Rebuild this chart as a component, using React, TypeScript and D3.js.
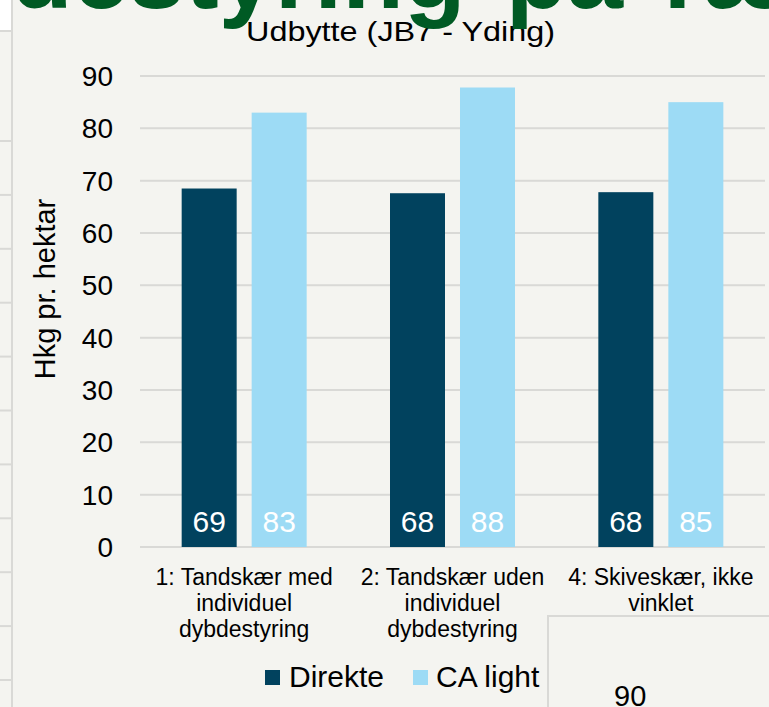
import React from "react";
import * as d3 from "d3";

const W = 769;
const H = 707;

const categories: string[][] = [
  ["1: Tandskær med", "individuel", "dybdestyring"],
  ["2: Tandskær uden", "individuel", "dybdestyring"],
  ["4: Skiveskær, ikke", "vinklet"],
];
const categoryKeys = ["c1", "c2", "c4"];
const seriesNames = ["Direkte", "CA light"];
const direkte = [68.5, 67.6, 67.8];
const caLight = [83.0, 87.8, 85.0];
const seriesValues = [direkte, caLight];
const seriesColors = ["#01425e", "#9ddbf5"];
const yTicks = [0, 10, 20, 30, 40, 50, 60, 70, 80, 90];
const title = "Udbytte (JB7 - Yding)";
const yTitle = "Hkg pr. hektar";
const bannerText = "destyring på ræ";
const boxText = "90";

const FONT = "'Liberation Sans', Arial, sans-serif";
const BG = "#f4f4f0";
const GRID = "#d9d9d6";

export default function App() {
  const y = d3.scaleLinear().domain([0, 90]).range([547, 76]);
  const x0 = d3
    .scaleBand<string>()
    .domain(categoryKeys)
    .range([140, 765])
    .paddingInner(0.4)
    .paddingOuter(0.2);
  const x1 = d3
    .scaleBand<string>()
    .domain(seriesNames)
    .range([0, x0.bandwidth()])
    .paddingInner(0.2143)
    .paddingOuter(0);

  const stripLines = d3.range(141, 700, 53.9);

  return (
    <svg
      width={W}
      height={H}
      style={{ position: "absolute", left: 0, top: 0, display: "block" }}
      fontFamily={FONT}
    >
      <rect x={0} y={0} width={W} height={H} fill={BG} />
      {/* left strip artifacts */}
      <rect x={0} y={0} width={11} height={30} fill="#ffffff" />
      <line x1={0} x2={11} y1={31} y2={31} stroke={GRID} strokeWidth={2} />
      {stripLines.map((v, i) => (
        <line key={i} x1={0} x2={11} y1={v} y2={v} stroke={GRID} strokeWidth={2} />
      ))}
      <line x1={12} x2={12} y1={0} y2={H} stroke={GRID} strokeWidth={2} />

      {/* gridlines */}
      {yTicks.map((t) => (
        <line
          key={t}
          x1={140}
          x2={765}
          y1={y(t)}
          y2={y(t)}
          stroke={GRID}
          strokeWidth={2}
        />
      ))}
      {/* y tick labels */}
      {yTicks.map((t) => (
        <text
          key={"l" + t}
          x={113}
          y={y(t) + 10}
          textAnchor="end"
          fontSize={28}
          fill="#000"
        >
          {t}
        </text>
      ))}
      {/* y title */}
      <text
        transform={`translate(55,289) rotate(-90)`}
        textAnchor="middle"
        fontSize={29}
        fill="#000"
      >
        {yTitle}
      </text>

      {/* bars */}
      {categoryKeys.map((c, ci) =>
        seriesNames.map((s, si) => {
          const v = seriesValues[si][ci];
          const bx = (x0(c) ?? 0) + (x1(s) ?? 0);
          return (
            <g key={c + s}>
              <rect
                x={bx}
                y={y(v)}
                width={x1.bandwidth()}
                height={y(0) - y(v)}
                fill={seriesColors[si]}
              />
              <text
                x={bx + x1.bandwidth() / 2}
                y={532}
                textAnchor="middle"
                fontSize={30}
                fill="#ffffff"
              >
                {Math.round(v)}
              </text>
            </g>
          );
        })
      )}

      {/* category labels */}
      {categoryKeys.map((c, ci) => (
        <text
          key={"cat" + c}
          x={(x0(c) ?? 0) + x0.bandwidth() / 2}
          y={585}
          textAnchor="middle"
          fontSize={23}
          fill="#000"
        >
          {categories[ci].map((line, li) => (
            <tspan key={li} x={(x0(c) ?? 0) + x0.bandwidth() / 2} dy={li === 0 ? 0 : 26}>
              {line}
            </tspan>
          ))}
        </text>
      ))}

      {/* legend */}
      <rect x={265} y={670} width={15} height={15} fill={seriesColors[0]} />
      <text x={289} y={687} fontSize={30} fill="#000">
        {seriesNames[0]}
      </text>
      <rect x={413} y={670} width={15} height={15} fill={seriesColors[1]} />
      <text x={436} y={687} fontSize={30} fill="#000">
        {seriesNames[1]}
      </text>

      {/* chart title */}
      <text
        x={246}
        y={41}
        fontSize={28}
        fill="#000"
        textLength={309}
        lengthAdjust="spacingAndGlyphs"
      >
        {title}
      </text>

      {/* overlapping slide banner */}
      <text
        x={11}
        y={8}
        fontSize={101}
        fontWeight="bold"
        fill="#005a24"
        wordSpacing={12}
      >
        {bannerText}
      </text>

      {/* bottom-right box */}
      <rect
        x={548}
        y={616}
        width={300}
        height={200}
        fill={BG}
        stroke={GRID}
        strokeWidth={2}
      />
      <text x={614} y={706} fontSize={29} fill="#000">
        {boxText}
      </text>
    </svg>
  );
}
